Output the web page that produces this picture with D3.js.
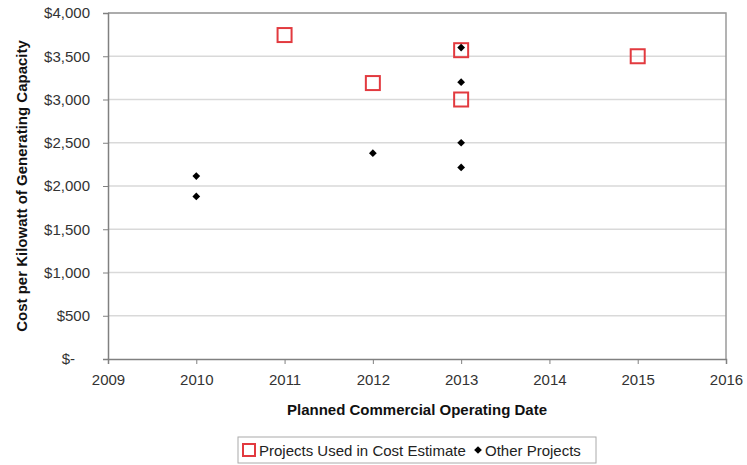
<!DOCTYPE html>
<html>
<head>
<meta charset="utf-8">
<script src="https://cdn.jsdelivr.net/npm/d3@7"></script>
<style>
  body { margin: 0; background: #fff; }
  svg { display: block; font-family: "Liberation Sans", Arial, sans-serif; }
</style>
</head>
<body>
<svg class="stage" width="747" height="465"></svg>
<script>
// projects used in cost estimate (year, $/kW)
var usedYears = [2011, 2012, 2013, 2013, 2015];
var usedCosts = [3745, 3190, 3570, 3000, 3500];

// other projects
var otherYears = [2010, 2010, 2012, 2013, 2013, 2013, 2013];
var otherCosts = [2115, 1880, 2380, 3600, 3200, 2500, 2215];

var yTicks = [0, 500, 1000, 1500, 2000, 2500, 3000, 3500, 4000];
var xTicks = [2009, 2010, 2011, 2012, 2013, 2014, 2015, 2016];

var svg = d3.select('svg.stage');
var width = +svg.attr('width');
var height = +svg.attr('height');
var margin = { top: 13, right: 21, bottom: 106, left: 108 };
var w = width - margin.left - margin.right;
var h = height - margin.top - margin.bottom;

var x = d3.scaleLinear().domain([2009, 2016]).range([0, w]);
var y = d3.scaleLinear().domain([0, 4000]).range([h, 0]);

var g = svg.append('g')
  .attr('transform', 'translate(' + margin.left + ',' + margin.top + ')');

// gridlines
g.append('g')
  .selectAll('line')
  .data(yTicks.slice(1))
  .enter().append('line')
  .attr('x1', 0)
  .attr('x2', w)
  .attr('y1', function (d) { return y(d); })
  .attr('y2', function (d) { return y(d); })
  .attr('stroke', '#d9d9d9')
  .attr('stroke-width', 1.5);

// top and right frame
g.append('path')
  .attr('d', 'M0,0H' + w + 'V' + h)
  .attr('fill', 'none')
  .attr('stroke', '#9a9a9a')
  .attr('stroke-width', 1.5);

var money = d3.format('$,');

var yAxis = g.append('g')
  .call(d3.axisLeft(y).tickValues(yTicks).tickSize(5).tickPadding(13)
    .tickFormat(function (d) { return d === 0 ? '$-' : money(d); }));

yAxis.selectAll('text')
  .attr('dx', function (d) { return d === 0 ? -15 : 0; });

var xAxis = g.append('g')
  .attr('transform', 'translate(0,' + h + ')')
  .call(d3.axisBottom(x).tickValues(xTicks).tickSize(5).tickPadding(10)
    .tickFormat(d3.format('d')));

[yAxis, xAxis].forEach(function (a) {
  a.select('.domain').attr('stroke', '#808080').attr('stroke-width', 1.5);
  a.selectAll('.tick line').attr('stroke', '#808080');
  a.selectAll('text')
    .attr('fill', '#333')
    .style('font-size', '15px');
});

// squares
g.append('g')
  .selectAll('rect')
  .data(d3.range(usedYears.length))
  .enter().append('rect')
  .attr('x', function (i) { return x(usedYears[i]) - 7; })
  .attr('y', function (i) { return y(usedCosts[i]) - 7; })
  .attr('width', 14)
  .attr('height', 14)
  .attr('fill', 'none')
  .attr('stroke', '#e23a3f')
  .attr('stroke-width', 2);

// diamonds
var diamond = d3.symbol().type(d3.symbolSquare).size(30);

g.append('g')
  .selectAll('path')
  .data(d3.range(otherYears.length))
  .enter().append('path')
  .attr('d', diamond)
  .attr('transform', function (i) {
    return 'translate(' + x(otherYears[i]) + ',' + y(otherCosts[i]) + ') rotate(45)';
  })
  .attr('fill', '#000');

// axis titles
svg.append('text')
  .attr('x', margin.left + w / 2)
  .attr('y', 415)
  .attr('text-anchor', 'middle')
  .style('font-size', '15px')
  .style('font-weight', 'bold')
  .attr('fill', '#111')
  .text('Planned Commercial Operating Date');

svg.append('text')
  .attr('transform', 'translate(27,' + (margin.top + h / 2) + ') rotate(-90)')
  .attr('text-anchor', 'middle')
  .style('font-size', '15px')
  .style('font-weight', 'bold')
  .attr('fill', '#111')
  .text('Cost per Kilowatt of Generating Capacity');

// legend
var legend = svg.append('g').attr('transform', 'translate(238,437)');

legend.append('rect')
  .attr('width', 358)
  .attr('height', 26)
  .attr('fill', '#fff')
  .attr('stroke', '#aaa')
  .attr('stroke-width', 1);

legend.append('rect')
  .attr('x', 5)
  .attr('y', 7)
  .attr('width', 12)
  .attr('height', 12)
  .attr('fill', 'none')
  .attr('stroke', '#e23a3f')
  .attr('stroke-width', 2);

legend.append('text')
  .attr('x', 21)
  .attr('y', 18.5)
  .style('font-size', '15px')
  .attr('fill', '#222')
  .text('Projects Used in Cost Estimate');

legend.append('path')
  .attr('d', diamond)
  .attr('transform', 'translate(240,13) rotate(45)')
  .attr('fill', '#000');

legend.append('text')
  .attr('x', 247)
  .attr('y', 18.5)
  .style('font-size', '15px')
  .attr('fill', '#222')
  .text('Other Projects');
</script>
</body>
</html>
